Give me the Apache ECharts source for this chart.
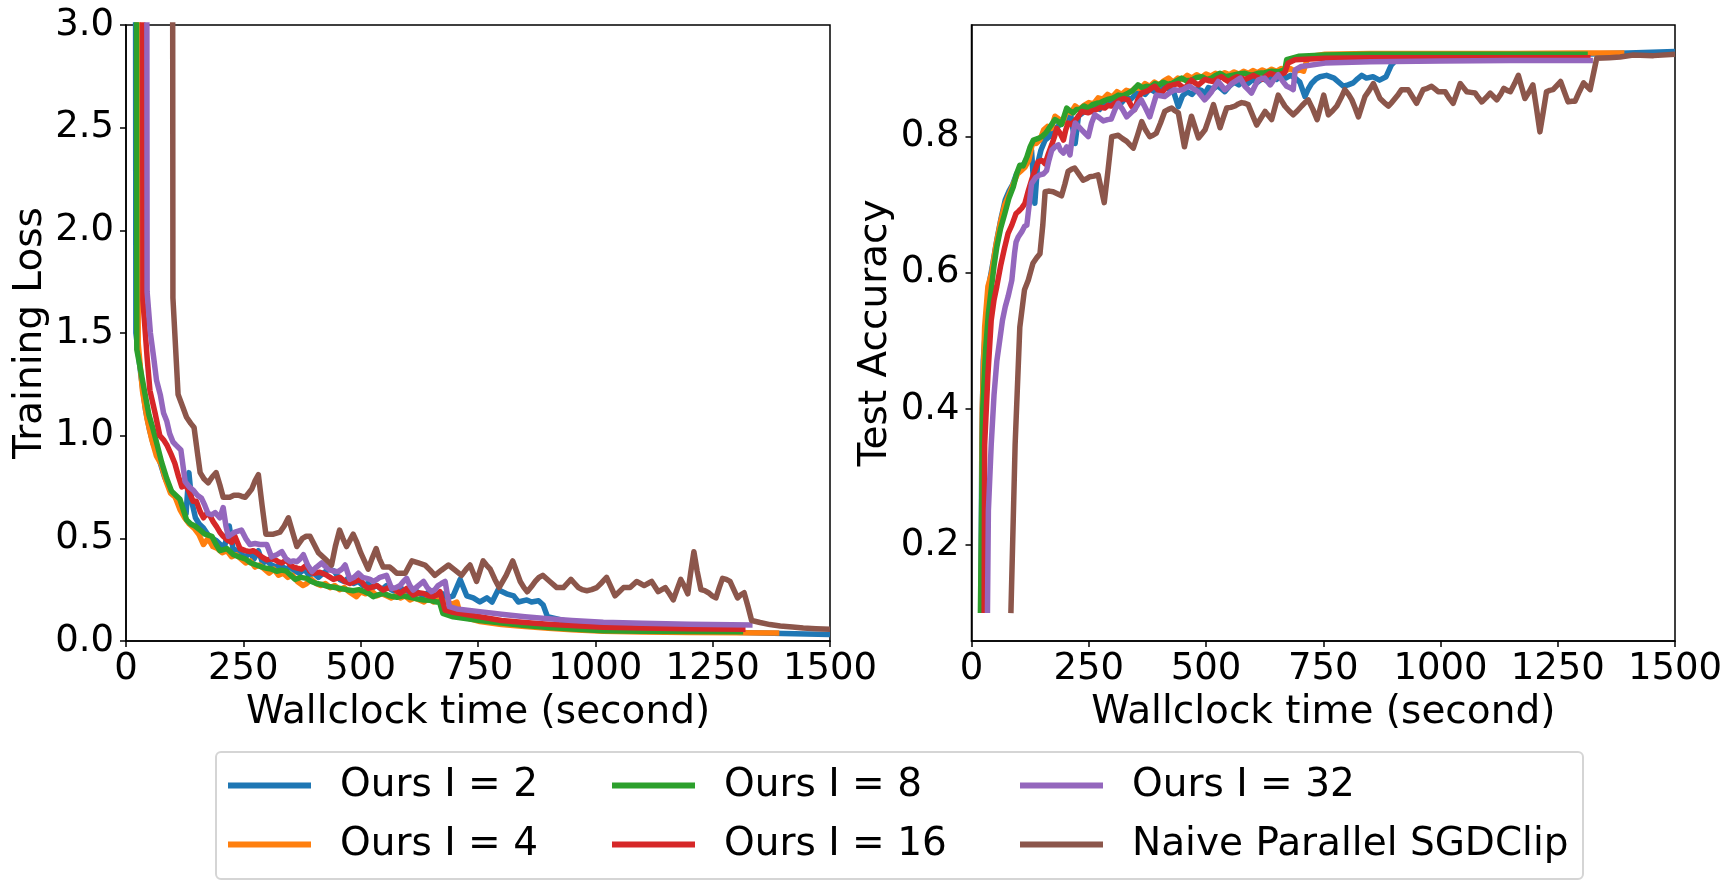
<!DOCTYPE html>
<html>
<head>
<meta charset="utf-8">
<script src="https://cdn.jsdelivr.net/npm/echarts@6/dist/echarts.min.js"></script>
<style>
  html, body { margin: 0; padding: 0; background: #fff; }
  #chart { width: 1734px; height: 889px; }
</style>
</head>
<body>
<div id="chart"></div>
<script>
// series names (legend order, column by column)
const names = ['Ours I = 2', 'Ours I = 4', 'Ours I = 8', 'Ours I = 16', 'Ours I = 32', 'Naive Parallel SGDClip'];
const colors = ['#1f77b4', '#ff7f0e', '#2ca02c', '#d62728', '#9467bd', '#8c564b'];

// axis ticks
const timeTicks = [0, 250, 500, 750, 1000, 1250, 1500];
const lossTicks = [0, 0.5, 1.0, 1.5, 2.0, 2.5, 3.0];
const accTicks = [0.2, 0.4, 0.6, 0.8];

// training loss, [wallclock second, loss]
const lossI2 = [[20,4.2],[21,1.50],[32,1.29],[42,1.12],[50,1.03],[58,0.96],[66,0.92],[74,0.86],[82,0.80],[90,0.76],[98,0.72],[106,0.70],[114,0.66],[122,0.64],[128,0.62],[134,0.82],[140,0.68],[148,0.60],[156,0.57],[165,0.55],[174,0.52],[183,0.50],[192,0.49],[201,0.47],[210,0.46],[220,0.56],[228,0.45],[237,0.44],[246,0.42],[255,0.41],[264,0.43],[273,0.40],[282,0.44],[291,0.38],[300,0.39],[310,0.37],[320,0.36],[330,0.37],[340,0.35],[350,0.36],[360,0.34],[370,0.33],[380,0.35],[390,0.32],[400,0.33],[410,0.31],[420,0.33],[432,0.35],[444,0.34],[455,0.30],[465,0.29],[475,0.31],[485,0.28],[495,0.29],[505,0.27],[515,0.28],[525,0.26],[535,0.27],[545,0.25],[555,0.27],[565,0.25],[575,0.24],[585,0.26],[595,0.24],[605,0.23],[615,0.25],[625,0.23],[635,0.22],[645,0.24],[655,0.22],[665,0.21],[675,0.23],[685,0.21],[697,0.22],[712,0.30],[726,0.22],[740,0.21],[754,0.19],[769,0.21],[780,0.19],[793,0.25],[811,0.23],[826,0.22],[836,0.19],[854,0.20],[864,0.19],[879,0.196],[889,0.175],[898,0.118],[950,0.09],[1000,0.075],[1100,0.06],[1200,0.05],[1300,0.042],[1400,0.036],[1500,0.032]];
const lossI4 = [[25,4.2],[26,1.45],[35,1.22],[45,1.08],[55,0.98],[65,0.90],[75,0.86],[85,0.78],[95,0.72],[105,0.70],[115,0.64],[125,0.60],[135,0.57],[145,0.55],[155,0.52],[165,0.47],[175,0.50],[185,0.46],[195,0.45],[205,0.43],[215,0.44],[225,0.41],[235,0.42],[245,0.40],[255,0.38],[265,0.39],[275,0.36],[285,0.37],[295,0.35],[305,0.33],[315,0.35],[325,0.32],[335,0.33],[345,0.31],[355,0.32],[365,0.29],[377,0.27],[385,0.28],[395,0.30],[405,0.28],[415,0.27],[425,0.28],[435,0.26],[445,0.27],[455,0.25],[465,0.26],[475,0.24],[491,0.216],[500,0.24],[510,0.23],[525,0.24],[535,0.22],[545,0.23],[555,0.22],[565,0.21],[575,0.22],[585,0.21],[595,0.22],[605,0.20],[615,0.21],[625,0.20],[635,0.19],[645,0.21],[655,0.19],[665,0.20],[675,0.18],[685,0.19],[695,0.18],[705,0.19],[712,0.13],[730,0.11],[754,0.095],[800,0.08],[850,0.07],[900,0.062],[950,0.055],[1017,0.048],[1100,0.044],[1200,0.041],[1300,0.04],[1392,0.039]];
const lossI8 = [[22,4.2],[23,1.42],[40,1.21],[49,1.10],[58,1.03],[67,0.95],[76,0.87],[87,0.79],[97,0.73],[106,0.71],[115,0.69],[122,0.64],[129,0.59],[138,0.57],[147,0.56],[158,0.54],[168,0.52],[183,0.51],[192,0.47],[200,0.44],[215,0.45],[229,0.42],[241,0.41],[254,0.40],[266,0.38],[278,0.37],[290,0.36],[300,0.354],[310,0.35],[321,0.34],[332,0.345],[342,0.34],[351,0.32],[360,0.30],[372,0.31],[385,0.305],[395,0.29],[406,0.28],[418,0.275],[431,0.265],[443,0.262],[456,0.256],[470,0.25],[484,0.245],[496,0.25],[509,0.24],[518,0.23],[527,0.216],[537,0.225],[548,0.232],[562,0.22],[577,0.213],[590,0.22],[605,0.213],[620,0.205],[634,0.20],[648,0.198],[662,0.19],[668,0.19],[675,0.135],[697,0.118],[754,0.10],[800,0.088],[850,0.075],[900,0.066],[950,0.058],[1017,0.05],[1100,0.048],[1200,0.046],[1315,0.045]];
const lossI16 = [[35,4.2],[36,1.66],[45,1.38],[51,1.22],[62,1.11],[72,1.00],[80,0.98],[87,0.955],[96,0.91],[104,0.866],[112,0.80],[119,0.75],[126,0.76],[133,0.735],[143,0.68],[150,0.68],[158,0.63],[165,0.60],[172,0.62],[179,0.61],[186,0.58],[193,0.557],[200,0.53],[207,0.51],[217,0.49],[225,0.48],[232,0.51],[243,0.45],[254,0.44],[264,0.435],[271,0.44],[278,0.43],[289,0.41],[300,0.395],[309,0.40],[318,0.395],[325,0.385],[332,0.38],[342,0.395],[350,0.37],[357,0.36],[365,0.355],[374,0.35],[385,0.37],[392,0.34],[399,0.33],[413,0.335],[428,0.32],[442,0.30],[456,0.31],[466,0.29],[477,0.28],[488,0.29],[499,0.30],[508,0.27],[516,0.256],[534,0.27],[548,0.248],[560,0.26],[570,0.256],[584,0.232],[598,0.256],[612,0.224],[623,0.235],[634,0.232],[645,0.22],[655,0.216],[662,0.225],[669,0.24],[680,0.15],[697,0.14],[754,0.118],[800,0.10],[850,0.09],[900,0.082],[950,0.075],[1017,0.067],[1100,0.063],[1200,0.06],[1320,0.057]];
const lossI32 = [[44,4.2],[45,1.70],[52,1.50],[59,1.38],[65,1.27],[73,1.20],[80,1.11],[87,1.07],[93,1.01],[100,0.97],[106,0.955],[117,0.93],[126,0.776],[135,0.75],[143,0.735],[152,0.71],[161,0.695],[168,0.66],[175,0.62],[183,0.615],[190,0.625],[200,0.60],[207,0.65],[213,0.56],[218,0.51],[225,0.52],[232,0.53],[239,0.535],[246,0.54],[255,0.50],[264,0.47],[275,0.475],[285,0.47],[293,0.47],[300,0.47],[310,0.41],[321,0.42],[332,0.435],[341,0.40],[350,0.386],[357,0.39],[364,0.386],[371,0.40],[378,0.42],[387,0.37],[396,0.338],[406,0.36],[417,0.38],[426,0.36],[435,0.346],[443,0.34],[452,0.338],[460,0.35],[467,0.37],[477,0.30],[486,0.31],[495,0.33],[504,0.31],[513,0.305],[520,0.30],[527,0.29],[535,0.30],[541,0.31],[548,0.315],[555,0.32],[566,0.256],[575,0.26],[584,0.27],[591,0.29],[598,0.305],[605,0.27],[612,0.248],[623,0.27],[634,0.29],[642,0.26],[651,0.24],[658,0.25],[665,0.27],[672,0.28],[680,0.29],[689,0.167],[705,0.156],[754,0.143],[800,0.13],[850,0.118],[900,0.108],[950,0.10],[1017,0.091],[1100,0.086],[1200,0.082],[1335,0.078]];
const lossNaive = [[99,4.2],[100,1.67],[111,1.20],[121,1.14],[129,1.09],[138,1.06],[145,1.04],[152,0.92],[158,0.82],[166,0.79],[175,0.77],[184,0.80],[192,0.82],[200,0.76],[207,0.70],[214,0.70],[221,0.70],[230,0.71],[239,0.71],[246,0.705],[254,0.70],[261,0.72],[268,0.74],[275,0.78],[282,0.81],[290,0.66],[298,0.52],[306,0.52],[314,0.52],[321,0.525],[328,0.53],[337,0.56],[346,0.60],[355,0.53],[364,0.46],[370,0.48],[376,0.50],[384,0.51],[392,0.51],[401,0.47],[410,0.43],[424,0.40],[438,0.37],[446,0.46],[455,0.54],[462,0.50],[470,0.46],[477,0.49],[484,0.52],[492,0.48],[500,0.43],[508,0.39],[516,0.35],[524,0.40],[533,0.45],[540,0.40],[548,0.36],[555,0.36],[562,0.36],[570,0.345],[577,0.33],[586,0.33],[595,0.33],[602,0.36],[609,0.39],[623,0.38],[637,0.37],[648,0.345],[658,0.32],[672,0.345],[687,0.37],[701,0.345],[715,0.32],[725,0.35],[733,0.37],[740,0.33],[747,0.29],[754,0.34],[761,0.39],[768,0.37],[776,0.35],[786,0.30],[795,0.26],[810,0.32],[824,0.39],[832,0.34],[840,0.29],[848,0.26],[855,0.24],[864,0.265],[872,0.29],[880,0.31],[888,0.32],[903,0.29],[918,0.26],[932,0.26],[948,0.30],[956,0.28],[964,0.26],[972,0.25],[982,0.245],[992,0.25],[1003,0.26],[1014,0.285],[1024,0.31],[1033,0.265],[1042,0.22],[1051,0.24],[1060,0.26],[1074,0.26],[1088,0.29],[1096,0.28],[1104,0.27],[1112,0.28],[1120,0.29],[1134,0.24],[1149,0.26],[1158,0.23],[1166,0.20],[1174,0.25],[1182,0.30],[1190,0.265],[1197,0.23],[1203,0.33],[1210,0.435],[1217,0.34],[1225,0.25],[1233,0.245],[1241,0.235],[1249,0.22],[1257,0.21],[1264,0.26],[1271,0.305],[1279,0.30],[1287,0.29],[1295,0.25],[1303,0.21],[1310,0.225],[1317,0.235],[1325,0.17],[1333,0.10],[1351,0.09],[1372,0.08],[1394,0.073],[1420,0.068],[1443,0.063],[1470,0.06],[1500,0.057]];

// test accuracy, [wallclock second, accuracy]
const accI2 = [[20,0.10],[22,0.35],[25,0.47],[32,0.54],[39,0.589],[47,0.62],[54,0.648],[63,0.68],[72,0.707],[80,0.72],[88,0.73],[96,0.745],[104,0.755],[112,0.76],[120,0.77],[128,0.78],[135,0.702],[141,0.76],[148,0.78],[157,0.795],[166,0.80],[175,0.81],[184,0.815],[193,0.82],[202,0.826],[212,0.83],[221,0.79],[228,0.83],[237,0.835],[246,0.84],[255,0.837],[264,0.845],[273,0.84],[282,0.848],[291,0.846],[300,0.85],[310,0.855],[320,0.85],[330,0.858],[340,0.855],[350,0.862],[360,0.866],[370,0.862],[380,0.87],[390,0.866],[400,0.87],[410,0.875],[420,0.87],[430,0.868],[441,0.844],[450,0.86],[460,0.866],[470,0.862],[480,0.87],[490,0.868],[497,0.862],[505,0.872],[515,0.87],[525,0.875],[540,0.866],[550,0.874],[560,0.88],[570,0.876],[580,0.882],[590,0.878],[600,0.884],[610,0.88],[620,0.886],[630,0.882],[640,0.888],[650,0.884],[660,0.889],[670,0.886],[680,0.89],[690,0.886],[700,0.88],[711,0.859],[718,0.87],[725,0.878],[735,0.885],[743,0.888],[757,0.89],[773,0.886],[793,0.874],[803,0.876],[814,0.879],[823,0.885],[832,0.89],[842,0.886],[856,0.888],[870,0.883],[884,0.888],[895,0.905],[906,0.913],[950,0.917],[1000,0.918],[1100,0.919],[1200,0.92],[1300,0.921],[1400,0.923],[1500,0.925]];
const accI4 = [[21,0.10],[23,0.40],[28,0.52],[35,0.58],[43,0.60],[52,0.64],[62,0.675],[71,0.70],[80,0.715],[89,0.73],[98,0.745],[106,0.75],[114,0.755],[122,0.765],[130,0.79],[138,0.79],[146,0.795],[154,0.81],[162,0.815],[170,0.812],[178,0.83],[186,0.826],[194,0.82],[203,0.838],[212,0.835],[221,0.845],[230,0.84],[240,0.846],[250,0.85],[260,0.848],[270,0.857],[280,0.855],[290,0.862],[300,0.858],[310,0.866],[320,0.862],[330,0.868],[340,0.866],[350,0.872],[360,0.87],[370,0.878],[380,0.874],[390,0.88],[400,0.876],[410,0.882],[420,0.886],[430,0.88],[440,0.886],[450,0.884],[460,0.89],[470,0.886],[480,0.891],[490,0.887],[500,0.892],[510,0.889],[520,0.893],[530,0.89],[540,0.894],[550,0.891],[560,0.895],[570,0.892],[580,0.896],[590,0.893],[600,0.897],[610,0.894],[620,0.898],[630,0.895],[640,0.899],[650,0.896],[660,0.9],[670,0.897],[680,0.9],[690,0.896],[700,0.898],[708,0.896],[715,0.912],[725,0.918],[754,0.921],[850,0.922],[1000,0.922],[1150,0.922],[1300,0.923],[1392,0.923]];
const accI8 = [[19,0.10],[24,0.40],[30,0.486],[36,0.54],[42,0.575],[48,0.61],[54,0.638],[62,0.665],[71,0.687],[80,0.71],[89,0.726],[96,0.745],[103,0.758],[110,0.757],[118,0.77],[125,0.785],[132,0.795],[141,0.797],[150,0.80],[158,0.805],[168,0.815],[178,0.825],[185,0.822],[192,0.818],[203,0.842],[210,0.838],[217,0.835],[224,0.84],[231,0.84],[240,0.845],[249,0.842],[258,0.847],[267,0.849],[275,0.85],[284,0.853],[292,0.855],[299,0.856],[306,0.858],[313,0.861],[323,0.86],[334,0.864],[344,0.868],[355,0.876],[364,0.872],[373,0.874],[382,0.873],[391,0.878],[400,0.876],[409,0.88],[418,0.877],[427,0.878],[437,0.882],[448,0.886],[458,0.882],[469,0.883],[480,0.887],[491,0.888],[502,0.884],[512,0.886],[521,0.89],[530,0.893],[542,0.888],[555,0.89],[569,0.892],[583,0.893],[597,0.89],[611,0.893],[625,0.894],[640,0.896],[654,0.895],[668,0.898],[672,0.913],[697,0.918],[754,0.92],[850,0.921],[1000,0.921],[1150,0.921],[1314,0.921]];
const accI16 = [[27,0.10],[28,0.347],[35,0.45],[42,0.53],[48,0.56],[54,0.58],[62,0.61],[70,0.635],[78,0.658],[86,0.67],[95,0.687],[100,0.69],[107,0.695],[114,0.702],[121,0.72],[128,0.736],[135,0.75],[142,0.763],[150,0.765],[157,0.76],[164,0.775],[171,0.788],[177,0.80],[182,0.812],[189,0.805],[196,0.795],[201,0.81],[206,0.82],[213,0.818],[220,0.823],[228,0.83],[235,0.837],[242,0.836],[249,0.835],[258,0.838],[267,0.84],[275,0.843],[284,0.842],[291,0.846],[298,0.845],[308,0.85],[317,0.854],[325,0.856],[334,0.854],[341,0.845],[348,0.84],[355,0.855],[362,0.864],[371,0.866],[380,0.869],[385,0.872],[391,0.874],[398,0.868],[405,0.864],[412,0.87],[419,0.874],[430,0.876],[441,0.878],[448,0.874],[455,0.871],[462,0.877],[469,0.883],[476,0.879],[484,0.876],[491,0.88],[498,0.884],[507,0.882],[516,0.881],[524,0.885],[533,0.888],[540,0.884],[548,0.881],[557,0.885],[566,0.888],[575,0.886],[583,0.884],[592,0.887],[601,0.89],[610,0.887],[619,0.884],[628,0.889],[637,0.893],[645,0.891],[654,0.89],[661,0.892],[668,0.894],[675,0.908],[690,0.913],[754,0.915],[850,0.916],[1000,0.916],[1150,0.916],[1320,0.916]];
const accI32 = [[34,0.10],[36,0.25],[42,0.347],[48,0.42],[54,0.47],[60,0.50],[66,0.53],[72,0.55],[78,0.565],[86,0.589],[92,0.63],[95,0.645],[100,0.653],[107,0.66],[113,0.668],[118,0.67],[123,0.70],[128,0.731],[137,0.74],[146,0.744],[153,0.745],[160,0.75],[165,0.765],[171,0.78],[178,0.785],[185,0.788],[190,0.78],[196,0.776],[203,0.785],[210,0.773],[215,0.80],[221,0.82],[228,0.815],[235,0.81],[242,0.805],[249,0.80],[256,0.82],[263,0.832],[272,0.828],[281,0.823],[290,0.825],[298,0.826],[306,0.84],[313,0.849],[322,0.84],[331,0.829],[340,0.835],[348,0.84],[355,0.848],[362,0.854],[371,0.842],[380,0.829],[387,0.845],[394,0.861],[403,0.86],[412,0.859],[422,0.864],[433,0.869],[442,0.868],[451,0.869],[458,0.872],[465,0.874],[474,0.87],[483,0.866],[490,0.86],[497,0.854],[505,0.86],[512,0.866],[519,0.874],[526,0.881],[533,0.875],[540,0.869],[548,0.873],[555,0.878],[564,0.882],[573,0.886],[578,0.88],[583,0.874],[590,0.869],[597,0.864],[604,0.874],[611,0.883],[618,0.885],[625,0.886],[631,0.881],[637,0.876],[645,0.884],[654,0.891],[663,0.882],[672,0.874],[679,0.872],[686,0.869],[690,0.898],[703,0.903],[754,0.908],[850,0.91],[1000,0.911],[1150,0.912],[1325,0.912]];
const accNaive = [[84,0.10],[93,0.347],[103,0.52],[113,0.575],[121,0.589],[131,0.614],[139,0.622],[146,0.628],[152,0.67],[157,0.719],[166,0.72],[174,0.719],[183,0.716],[192,0.713],[199,0.73],[206,0.749],[213,0.752],[220,0.754],[229,0.745],[238,0.736],[245,0.738],[252,0.741],[261,0.742],[270,0.744],[283,0.703],[291,0.75],[299,0.80],[306,0.801],[313,0.802],[322,0.797],[331,0.793],[338,0.788],[345,0.783],[354,0.802],[363,0.822],[371,0.81],[380,0.80],[387,0.802],[394,0.805],[403,0.82],[412,0.837],[420,0.84],[427,0.842],[434,0.838],[441,0.835],[454,0.785],[461,0.808],[469,0.83],[476,0.815],[484,0.798],[491,0.804],[498,0.81],[507,0.828],[516,0.847],[523,0.83],[530,0.813],[537,0.828],[544,0.842],[553,0.843],[562,0.845],[569,0.848],[576,0.85],[583,0.849],[590,0.847],[599,0.832],[608,0.817],[617,0.827],[626,0.837],[633,0.831],[640,0.825],[647,0.843],[654,0.861],[661,0.853],[668,0.845],[677,0.838],[686,0.832],[695,0.838],[704,0.845],[711,0.85],[718,0.854],[728,0.84],[737,0.825],[744,0.843],[751,0.861],[761,0.832],[770,0.838],[779,0.845],[788,0.857],[796,0.869],[804,0.862],[811,0.854],[818,0.842],[825,0.829],[832,0.844],[839,0.859],[848,0.868],[857,0.878],[864,0.867],[871,0.856],[880,0.85],[889,0.845],[896,0.85],[903,0.856],[910,0.862],[917,0.869],[924,0.869],[931,0.869],[940,0.859],[949,0.849],[956,0.859],[963,0.869],[972,0.871],[981,0.874],[988,0.87],[995,0.866],[1002,0.866],[1010,0.866],[1018,0.857],[1027,0.849],[1035,0.864],[1042,0.878],[1049,0.872],[1056,0.866],[1065,0.865],[1074,0.864],[1081,0.857],[1088,0.851],[1097,0.857],[1106,0.864],[1113,0.859],[1120,0.854],[1128,0.862],[1135,0.871],[1142,0.868],[1149,0.866],[1158,0.878],[1166,0.89],[1173,0.873],[1180,0.856],[1189,0.866],[1197,0.876],[1205,0.84],[1212,0.807],[1219,0.836],[1226,0.866],[1233,0.868],[1240,0.869],[1248,0.875],[1256,0.881],[1264,0.866],[1272,0.851],[1280,0.852],[1287,0.852],[1296,0.866],[1305,0.879],[1312,0.874],[1319,0.869],[1333,0.915],[1360,0.916],[1383,0.917],[1411,0.92],[1454,0.919],[1500,0.921]];

const lossData = [lossI2, lossI4, lossI8, lossI16, lossI32, lossNaive];
const accData = [accI2, accI4, accI8, accI16, accI32, accNaive];

const FONT = 'DejaVu Sans';
const chart = echarts.init(document.getElementById('chart'), null, { renderer: 'canvas' });

function line(name, data, color, idx) {
  return {
    name: name,
    type: 'line',
    xAxisIndex: idx,
    yAxisIndex: idx,
    data: data,
    symbol: 'none',
    showSymbol: false,
    clip: true,
    lineStyle: { color: color, width: 5.5, join: 'round', cap: 'butt' },
    itemStyle: { color: color },
    emphasis: { disabled: true }
  };
}

function xAxisOf(idx) {
  return {
    type: 'value', gridIndex: idx,
    min: timeTicks[0], max: timeTicks[timeTicks.length - 1], interval: 250,
    name: 'Wallclock time (second)', nameLocation: 'middle', nameGap: 46,
    nameTextStyle: { fontFamily: FONT, fontSize: 39, color: '#000' },
    axisLine: { show: true, onZero: false, lineStyle: { color: '#000', width: 1.5 } },
    axisTick: { show: true, length: 6, lineStyle: { color: '#000', width: 1.5 } },
    axisLabel: { fontFamily: FONT, fontSize: 37, color: '#000', margin: 10, formatter: v => String(v) },
    splitLine: { show: false }
  };
}

const legendBase = {
  orient: 'vertical', top: 766, itemGap: 20, itemWidth: 83, itemHeight: 6,
  icon: 'rect', padding: 0, selectedMode: false,
  textStyle: { fontFamily: FONT, fontSize: 39, color: '#000', padding: [0, 0, 0, 24] }
};

const option = {
  backgroundColor: '#fff',
  animation: false,
  grid: [
    { left: 126, top: 25, width: 704, height: 616, show: true, borderColor: '#000', borderWidth: 1.5, backgroundColor: 'transparent', outerBoundsMode: 'none' },
    { left: 971.5, top: 25, width: 703.5, height: 616, show: true, borderColor: '#000', borderWidth: 1.5, backgroundColor: 'transparent', outerBoundsMode: 'none' }
  ],
  xAxis: [xAxisOf(0), xAxisOf(1)],
  yAxis: [
    {
      type: 'value', gridIndex: 0, min: lossTicks[0], max: lossTicks[lossTicks.length - 1], interval: 0.5,
      name: 'Training Loss', nameLocation: 'middle', nameGap: 76,
      nameTextStyle: { fontFamily: FONT, fontSize: 39, color: '#000' },
      axisLine: { show: true, onZero: false, lineStyle: { color: '#000', width: 1.5 } },
      axisTick: { show: true, length: 6, lineStyle: { color: '#000', width: 1.5 } },
      axisLabel: { fontFamily: FONT, fontSize: 37, color: '#000', margin: 12, formatter: v => v.toFixed(1) },
      splitLine: { show: false }
    },
    {
      type: 'value', gridIndex: 1, min: 0.059, max: 0.964,
      name: 'Test Accuracy', nameLocation: 'middle', nameGap: 76,
      nameTextStyle: { fontFamily: FONT, fontSize: 39, color: '#000' },
      axisLine: { show: true, onZero: false, lineStyle: { color: '#000', width: 1.5 } },
      axisTick: { show: true, length: 6, customValues: accTicks, lineStyle: { color: '#000', width: 1.5 } },
      axisLabel: { fontFamily: FONT, fontSize: 37, color: '#000', margin: 12, customValues: accTicks, formatter: v => v.toFixed(1) },
      splitLine: { show: false }
    }
  ],
  legend: [
    Object.assign({}, legendBase, { left: 228, data: [names[0], names[1]] }),
    Object.assign({}, legendBase, { left: 612, data: [names[2], names[3]] }),
    Object.assign({}, legendBase, { left: 1020, data: [names[4], names[5]] })
  ],
  graphic: [{
    type: 'rect', z: 0,
    shape: { x: 216, y: 752, width: 1367, height: 127, r: 5 },
    style: { fill: '#fff', stroke: '#d5d5d5', lineWidth: 2 }
  }],
  series: []
};

lossData.forEach((d, i) => option.series.push(line(names[i], d, colors[i], 0)));
accData.forEach((d, i) => option.series.push(line(names[i], d, colors[i], 1)));

chart.setOption(option);
</script>
</body>
</html>
